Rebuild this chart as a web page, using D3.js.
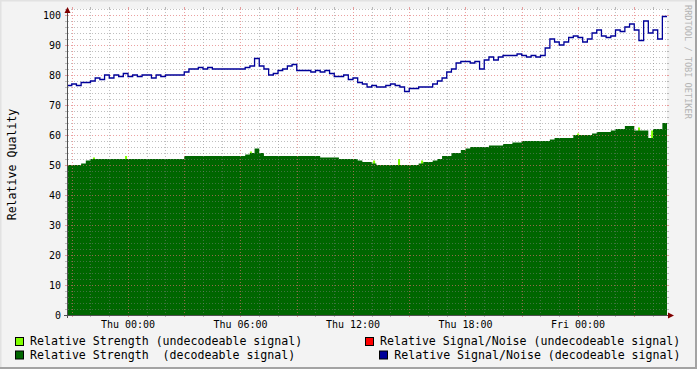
<!DOCTYPE html>
<html>
<head>
<meta charset="utf-8">
<script src="https://cdn.jsdelivr.net/npm/d3@7"></script>
<style>
  body { margin: 0; background: #f3f3f3; }
  svg { display: block; }
  text { font-family: "DejaVu Sans Mono", monospace; fill: #000; }
</style>
</head>
<body>
<div id="chart"></div>
<script>
var svgWidth = 697;
var svgHeight = 369;

// graph area (rrdtool style canvas)
var plot = { left: 67, right: 667, top: 9, bottom: 315 };

// time: hours relative to Thu 00:00 (UTC), one sample every 15 minutes
var baseDay = Date.UTC(2010, 0, 7); // a Thursday
var startHour = -3.2533;
var endHour = 28.7467;
var sampleStart = -3.25;
var sampleStep = 0.25;

// Relative Signal/Noise (decodeable signal)
var snDecode = [
  76.5, 77, 76.5, 77.5, 77.5, 78, 79, 78.5, 80, 79,
  80, 79.5, 80.5, 79.5, 80, 79.5, 80, 80, 79, 80,
  79.5, 80, 80, 80, 80, 81, 82, 82, 82.5, 82,
  82.5, 82, 82, 82, 82, 82, 82, 82, 82.5, 83,
  85.5, 83, 82, 80, 80.5, 81.5, 82, 83, 83.5, 81.5,
  81.5, 81.5, 81, 81.5, 81, 81.5, 80.5, 79.5, 79.5, 80,
  78.5, 79, 77.5, 77, 76, 76.5, 76, 76, 76.5, 77,
  76.5, 76, 74.5, 75.5, 75.5, 76, 76, 76, 77, 78,
  79, 81, 82, 84, 84.5, 84.5, 84, 84.5, 82, 85,
  86, 85, 86, 86.5, 86.5, 86.5, 87, 86.5, 86, 86.5,
  86, 86.5, 89, 92, 91, 90, 91, 92.5, 93, 92.5,
  91, 92, 94, 95, 93, 92.5, 93, 95, 94.5, 96,
  97, 95, 91.5, 98, 94, 95, 92, 99.5
];

// Relative Strength (decodeable signal)
var strDecode = [
  50, 50, 50, 50.5, 51.5, 52, 52, 52, 52, 52,
  52, 52, 52, 52, 52, 52, 52, 52, 52, 52,
  52, 52, 52, 52, 52, 53, 53, 53, 53, 53,
  53, 53, 53, 53, 53, 53, 53, 53, 53.5, 54,
  55.5, 54, 53, 53, 53, 53, 53, 53, 53, 53,
  53, 53, 53, 53, 52.5, 52.5, 52.5, 52.5, 52, 52,
  52, 52, 51.5, 51, 51, 50.5, 50, 50, 50, 50,
  50, 50, 50, 50, 50, 50.5, 51, 51, 51.5, 52,
  53, 53, 54, 54, 55, 55.5, 56, 56, 56, 56,
  56.5, 56.5, 56.5, 57, 57, 57.5, 57.5, 58, 58, 58,
  58, 58, 58, 58.5, 59, 59, 59, 59, 60, 60,
  60, 60, 60.5, 61, 61, 61, 61.5, 62, 62, 63,
  63, 61.5, 61.5, 61.5, 59, 62, 62, 64
];

// Relative Strength (undecodeable signal): short spikes only
var strUndecodeHours = [-1.87, -0.16, 6.5, 13.07, 14.4, 15.63, 23.95, 27.2, 27.9];
var strUndecodeVals = [52.5, 53, 54.5, 51.5, 52, 51.5, 60.5, 62.5, 61.5];

var yMajor = d3.range(0, 101, 10);
var yMinor = d3.range(0, 103, 2).filter(d => d % 10 !== 0);

var legendItems = [
  { label: "Relative Strength (undecodeable signal)", color: "#80ff00", x: 15.5, tx: 30, y: 337.5 },
  { label: "Relative Strength  (decodeable signal)", color: "#006600", x: 15.5, tx: 30, y: 351 },
  { label: "Relative Signal/Noise (undecodeable signal)", color: "#ff0000", x: 365.5, tx: 380, y: 337.5 },
  { label: "Relative Signal/Noise (decodeable signal)", color: "#000099", x: 379.5, tx: 394.3, y: 351 }
];

function hourToDate(h) { return new Date(baseDay + h * 3600 * 1000); }

var snData = snDecode.map((v, i) => ({ t: hourToDate(sampleStart + i * sampleStep), v: v }));
var strData = strDecode.map((v, i) => ({ t: hourToDate(sampleStart + i * sampleStep), v: v }));
// carry the first / last step to the edges
snData.push({ t: hourToDate(endHour), v: snDecode[snDecode.length - 1] });
strData.push({ t: hourToDate(endHour), v: strDecode[strDecode.length - 1] });
strData.unshift({ t: hourToDate(startHour), v: strDecode[0] });
snData.unshift({ t: hourToDate(startHour), v: snDecode[0] });

var svg = d3.select("#chart")
  .append("svg")
  .attr("width", svgWidth)
  .attr("height", svgHeight);

// background + shaded frame
svg.append("rect").attr("width", svgWidth).attr("height", svgHeight).attr("fill", "#f3f3f3");
svg.append("path")
  .attr("d", `M0,0 H${svgWidth} V1.5 H1.5 V${svgHeight} H0 Z`)
  .attr("fill", "#e2e2e2");
svg.append("path")
  .attr("d", `M${svgWidth},${svgHeight} H0 V${svgHeight - 2} H${svgWidth - 2} V0 H${svgWidth} Z`)
  .attr("fill", "#a3a3a3");

var x = d3.scaleUtc()
  .domain([hourToDate(startHour), hourToDate(endHour)])
  .range([plot.left, plot.right]);

var y = d3.scaleLinear()
  .domain([0, 102])
  .range([plot.bottom, plot.top]);

// canvas
svg.append("rect")
  .attr("x", plot.left)
  .attr("y", plot.top)
  .attr("width", plot.right - plot.left)
  .attr("height", plot.bottom - plot.top)
  .attr("fill", "#ffffff");

// undecodeable strength spikes (drawn under the decodeable area)
svg.append("g").selectAll("rect")
  .data(strUndecodeHours)
  .enter()
  .append("rect")
  .attr("x", h => x(hourToDate(h)))
  .attr("width", h => x(hourToDate(h + 0.11)) - x(hourToDate(h)))
  .attr("y", (h, i) => y(strUndecodeVals[i]))
  .attr("height", (h, i) => y(0) - y(strUndecodeVals[i]))
  .attr("fill", "#80ff00");

// decodeable strength area
var area = d3.area()
  .curve(d3.curveStepAfter)
  .x(d => x(d.t))
  .y0(y(0))
  .y1(d => y(d.v));

svg.append("path")
  .datum(strData)
  .attr("d", area)
  .attr("fill", "#006600");

// grid (on top, semi transparent, dotted)
var minorCol = "rgba(128,128,128,0.5)";
var majorCol = "rgba(225,110,110,0.65)";
var grid = svg.append("g").attr("shape-rendering", "crispEdges");

function hLine(v, col) {
  var yy = Math.round(y(v)) + 0.5;
  grid.append("line").attr("x1", plot.left + 1).attr("x2", plot.right).attr("y1", yy).attr("y2", yy)
    .attr("stroke", col).attr("stroke-dasharray", "1,2");
  grid.append("line").attr("x1", plot.left - 2).attr("x2", plot.left).attr("y1", yy).attr("y2", yy).attr("stroke", col);
  grid.append("line").attr("x1", plot.right).attr("x2", plot.right + 2).attr("y1", yy).attr("y2", yy).attr("stroke", col);
}
function vLine(t, col) {
  var xx = Math.round(x(t)) + 0.5;
  grid.append("line").attr("x1", xx).attr("x2", xx).attr("y1", plot.top).attr("y2", plot.bottom)
    .attr("stroke", col).attr("stroke-dasharray", "1,2");
  grid.append("line").attr("x1", xx).attr("x2", xx).attr("y1", plot.bottom).attr("y2", plot.bottom + 2).attr("stroke", col);
  grid.append("line").attr("x1", xx).attr("x2", xx).attr("y1", plot.top - 2).attr("y2", plot.top).attr("stroke", col);
}

yMinor.forEach(v => hLine(v, minorCol));
x.ticks(d3.utcHour.every(1)).filter(t => t.getUTCHours() % 3 !== 0).forEach(t => vLine(t, minorCol));
yMajor.forEach(v => hLine(v, majorCol));
x.ticks(d3.utcHour.every(3)).forEach(t => vLine(t, majorCol));

// signal/noise line
var line = d3.line()
  .curve(d3.curveStepAfter)
  .x(d => x(d.t))
  .y(d => y(d.v));

svg.append("path")
  .datum(snData)
  .attr("d", line)
  .attr("fill", "none")
  .attr("stroke", "#000099")
  .attr("stroke-width", 1.3);

// axes
var axisCol = "#505050";
svg.append("line").attr("x1", plot.left + 0.5).attr("x2", plot.left + 0.5)
  .attr("y1", plot.bottom + 3).attr("y2", plot.top + 2).attr("stroke", axisCol);
svg.append("line").attr("x1", plot.left - 3).attr("x2", plot.right + 2)
  .attr("y1", plot.bottom + 0.5).attr("y2", plot.bottom + 0.5).attr("stroke", axisCol);
svg.append("path")
  .attr("d", `M${plot.left - 2.5},${plot.top + 4} L${plot.left + 3.5},${plot.top + 4} L${plot.left + 0.5},${plot.top - 2} Z`)
  .attr("fill", "#800000");
svg.append("path")
  .attr("d", `M${plot.right + 1},${plot.bottom - 2.5} L${plot.right + 1},${plot.bottom + 3.5} L${plot.right + 7},${plot.bottom + 0.5} Z`)
  .attr("fill", "#800000");

// y tick labels
svg.append("g").selectAll("text")
  .data(yMajor)
  .enter()
  .append("text")
  .attr("x", 61)
  .attr("y", d => y(d))
  .attr("dy", "0.36em")
  .attr("text-anchor", "end")
  .attr("font-size", "10px")
  .text(d => d);

// x tick labels every 6 hours
var fmt = d3.utcFormat("%a %H:%M");
svg.append("g").selectAll("text")
  .data(x.ticks(d3.utcHour.every(6)))
  .enter()
  .append("text")
  .attr("x", d => x(d))
  .attr("y", 327.5)
  .attr("text-anchor", "middle")
  .attr("font-size", "10px")
  .text(d => fmt(d));

// y axis title
svg.append("text")
  .attr("transform", "translate(16, 164.5) rotate(-90)")
  .attr("text-anchor", "middle")
  .attr("font-size", "11.6px")
  .text("Relative Quality");

// watermark
svg.append("text")
  .attr("transform", "translate(684.5, 5) rotate(90)")
  .attr("font-size", "8.6px")
  .style("fill", "#b4b4b4")
  .text("RRDTOOL / TOBI OETIKER");

// legend
var legend = svg.append("g");
legendItems.forEach(item => {
  legend.append("rect")
    .attr("x", item.x).attr("y", item.y)
    .attr("width", 8).attr("height", 8)
    .attr("fill", item.color)
    .attr("stroke", "#000")
    .attr("stroke-width", 1);
  legend.append("text")
    .attr("x", item.tx)
    .attr("y", item.y + 7.8)
    .attr("font-size", "11.6px")
    .style("white-space", "pre")
    .attr("xml:space", "preserve")
    .text(item.label);
});
</script>
</body>
</html>
